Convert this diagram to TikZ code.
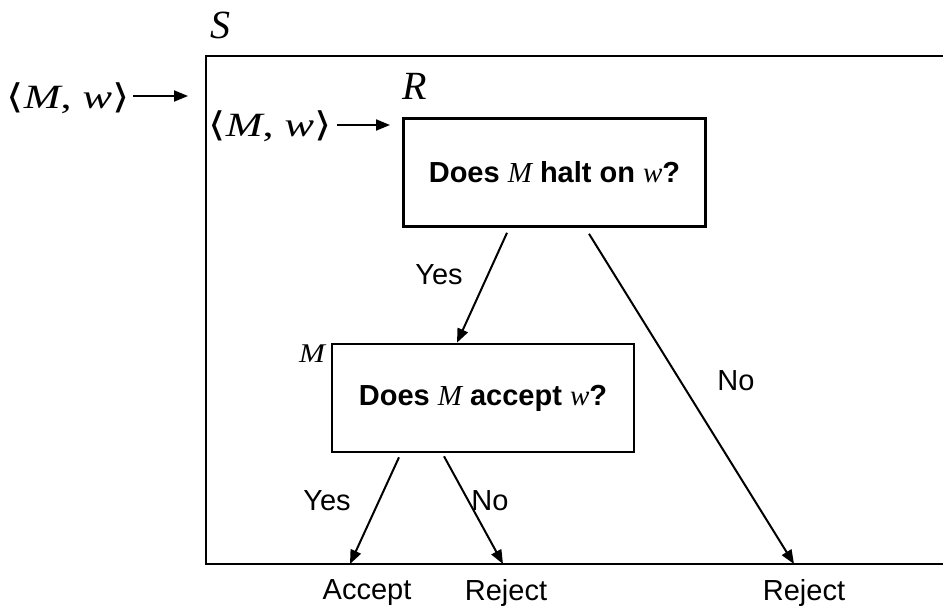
\documentclass[tikz,border=0pt]{standalone}
\usepackage{fontspec}
\setmainfont{Liberation Sans}
\newfontfamily\tms{Liberation Serif}
\newfontfamily\dvs{DejaVu Serif}
\usetikzlibrary{arrows.meta}
\newcommand{\mi}[1]{{\tms\mdseries\itshape #1}}
\newcommand{\mwpair}{\scalebox{1.3}[1]{{\dvs ⟨}\mi{M}{\tms, }\mi{w}{\dvs ⟩}}}
\tikzset{
  line/.style={line width=2.6pt},
  arr/.style={line width=2pt,-{Triangle[length=14pt,width=11pt]}},
  box/.style={draw,line width=2.6pt,minimum width=302pt,minimum height=108pt,inner sep=0pt,font=\fontsize{29}{34}\selectfont\bfseries},
  lbl/.style={font=\fontsize{29}{34}\selectfont,inner sep=0pt},
  big/.style={font=\fontsize{40}{46}\selectfont,inner sep=0pt},
  pair/.style={font=\fontsize{34}{40}\selectfont,inner sep=0pt}
}
\begin{document}
\begin{tikzpicture}[x=1pt,y=-1pt]
\useasboundingbox (0,0) rectangle (943,613);
% outer S box (right side beyond the picture)
\draw[line] (943,56) -- (206,56) -- (206,564) -- (943,564);
\node[big] (Slab) at (220,25) {\mi{S}};
\node[pair] (in1) at (68,98) {\mwpair};
\coordinate (in1start) at (133,96);
\coordinate (in1end) at (188,96);
\draw[arr] (in1start) -- (in1end);

\node[box] (R) at (554.5,172.5) {Does \mi{M} halt on \mi{w}?};
\node[big] (Rlab) at (415,86) {\mi{R}};
\node[pair] (in2) at (270,126) {\mwpair};
\coordinate (in2start) at (337,125);
\coordinate (in2end) at (390,125);
\draw[arr] (in2start) -- (in2end);

\node[box] (M) at (483,398) {Does \mi{M} accept \mi{w}?};
\node[font=\fontsize{27}{30}\selectfont,inner sep=0pt] (Mlab) at (312,354) {\scalebox{1.15}[1]{\mi{M}}};

\coordinate (rej2) at (794,564);
\coordinate (acc) at (350,564);
\coordinate (rej1) at (503,564);

\draw[arr] ([xshift=-47.5pt,yshift=-5pt]R.south) -- ([xshift=-26pt]M.north);
\draw[arr] ([xshift=34.5pt,yshift=-6pt]R.south) -- (rej2);
\draw[arr] ([xshift=-84pt,yshift=-4pt]M.south) -- (acc);
\draw[arr] ([xshift=-39pt,yshift=-3pt]M.south) -- (rej1);

\node[lbl] (y1) at (439,275) {Yes};
\node[lbl] (n1) at (736,381) {No};
\node[lbl] (y2) at (327,501) {Yes};
\node[lbl] (n2) at (490,501) {No};

\node[lbl] (accl) at (367,593) {Accept};
\node[lbl] (rej1l) at (506,593) {Reject};
\node[lbl] (rej2l) at (804,593) {Reject};
\end{tikzpicture}
\end{document}
